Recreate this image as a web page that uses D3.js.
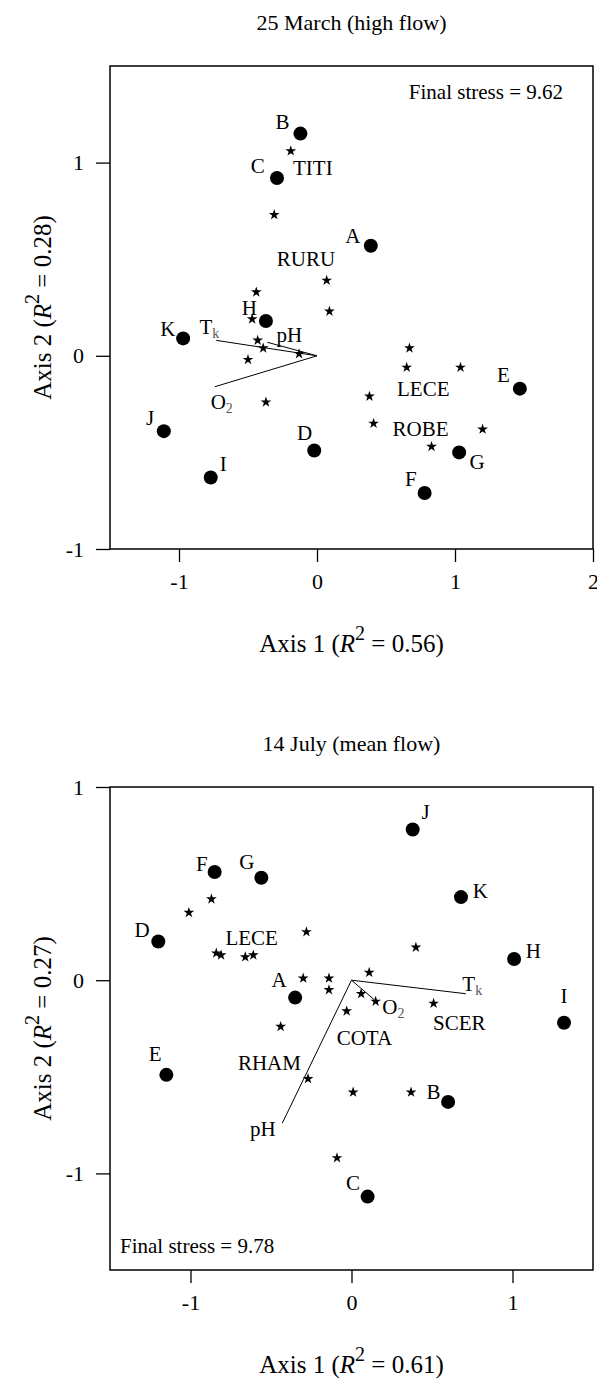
<!DOCTYPE html>
<html>
<head>
<meta charset="utf-8">
<script src="https://cdn.jsdelivr.net/npm/d3@7"></script>
<style>
  body { margin: 0; background: #fff; }
  svg text { font-family: "Liberation Serif", "Times New Roman", serif; fill: #000; }
</style>
</head>
<body>
<div id="chart"></div>
<script>
// site letters shared by both dates
const siteNames = ["A", "B", "C", "D", "E", "F", "G", "H", "I", "J", "K"];

// ---- 25 March (high flow) ----
const marchSiteX = [0.39, -0.12, -0.29, -0.02, 1.47, 0.78, 1.03, -0.37, -0.77, -1.11, -0.97];
const marchSiteY = [0.57, 1.15, 0.92, -0.49, -0.17, -0.71, -0.50, 0.18, -0.63, -0.39, 0.09];
const marchSiteLabelX = [0.26, -0.25, -0.43, -0.09, 1.35, 0.68, 1.16, -0.49, -0.68, -1.21, -1.08];
const marchSiteLabelY = [0.62, 1.21, 0.98, -0.40, -0.10, -0.64, -0.55, 0.25, -0.56, -0.32, 0.14];
const marchSpeciesX = [-0.19, -0.31, 0.07, 0.09, -0.44, -0.47, -0.43, -0.39, -0.13, -0.50, -0.37,
                       0.67, 0.65, 1.04, 0.38, 0.41, 1.20, 0.83];
const marchSpeciesY = [1.06, 0.73, 0.39, 0.23, 0.33, 0.19, 0.08, 0.04, 0.01, -0.02, -0.24,
                       0.04, -0.06, -0.06, -0.21, -0.35, -0.38, -0.47];
const marchTagNames = ["TITI", "RURU", "LECE", "ROBE"];
const marchTagX = [-0.03, -0.08, 0.77, 0.75];
const marchTagY = [0.97, 0.50, -0.17, -0.38];
const marchVectorNames = ["Tk", "pH", "O2"];
const marchVectorX = [-0.73, -0.36, -0.74];
const marchVectorY = [0.08, 0.07, -0.16];
const marchVectorLabelX = [-0.78, -0.20, -0.69];
const marchVectorLabelY = [0.15, 0.11, -0.24];
const marchXTicks = [-1, 0, 1, 2];
const marchYTicks = [-1, 0, 1];

// ---- 14 July (mean flow) ----
const julySiteX = [-0.35, 0.60, 0.10, -1.20, -1.15, -0.85, -0.56, 1.01, 1.32, 0.38, 0.68];
const julySiteY = [-0.09, -0.63, -1.12, 0.20, -0.49, 0.56, 0.53, 0.11, -0.22, 0.78, 0.43];
const julySiteLabelX = [-0.45, 0.51, 0.01, -1.30, -1.22, -0.93, -0.65, 1.13, 1.32, 0.46, 0.80];
const julySiteLabelY = [0.00, -0.58, -1.05, 0.26, -0.38, 0.60, 0.61, 0.15, -0.08, 0.87, 0.46];
const julySpeciesX = [-0.87, -1.01, -0.28, -0.84, -0.81, -0.66, -0.61, -0.30, -0.14, -0.14, 0.11,
                      0.06, 0.15, -0.03, -0.44, -0.27, 0.01, 0.37, 0.40, 0.51, -0.09];
const julySpeciesY = [0.42, 0.35, 0.25, 0.14, 0.13, 0.12, 0.13, 0.01, 0.01, -0.05, 0.04,
                      -0.07, -0.11, -0.16, -0.24, -0.51, -0.58, -0.58, 0.17, -0.12, -0.92];
const julyTagNames = ["LECE", "RHAM", "COTA", "SCER"];
const julyTagX = [-0.62, -0.51, 0.08, 0.67];
const julyTagY = [0.22, -0.43, -0.30, -0.22];
const julyVectorNames = ["Tk", "O2", "pH"];
const julyVectorX = [0.71, 0.14, -0.43];
const julyVectorY = [-0.07, -0.10, -0.74];
const julyVectorLabelX = [0.75, 0.26, -0.55];
const julyVectorLabelY = [-0.02, -0.14, -0.77];
const julyXTicks = [-1, 0, 1];
const julyYTicks = [-1, 0, 1];

const panels = [
  {
    title: "25 March (high flow)", xR2: "0.56", yR2: "0.28", stress: "Final stress = 9.62", stressPos: "topright",
    xDomain: [-1.5, 2], yDomain: [-1, 1.5], xTicks: marchXTicks, yTicks: marchYTicks,
    siteX: marchSiteX, siteY: marchSiteY, labelX: marchSiteLabelX, labelY: marchSiteLabelY,
    spX: marchSpeciesX, spY: marchSpeciesY,
    tags: marchTagNames, tagX: marchTagX, tagY: marchTagY,
    vecs: marchVectorNames, vecX: marchVectorX, vecY: marchVectorY, vecLX: marchVectorLabelX, vecLY: marchVectorLabelY
  },
  {
    title: "14 July (mean flow)", xR2: "0.61", yR2: "0.27", stress: "Final stress = 9.78", stressPos: "bottomleft",
    xDomain: [-1.5, 1.5], yDomain: [-1.5, 1], xTicks: julyXTicks, yTicks: julyYTicks,
    siteX: julySiteX, siteY: julySiteY, labelX: julySiteLabelX, labelY: julySiteLabelY,
    spX: julySpeciesX, spY: julySpeciesY,
    tags: julyTagNames, tagX: julyTagX, tagY: julyTagY,
    vecs: julyVectorNames, vecX: julyVectorX, vecY: julyVectorY, vecLX: julyVectorLabelX, vecLY: julyVectorLabelY
  }
];

const W = 597, H = 1379;
const boxL = 110, boxW = 483, boxH = 483;
const panelTop = [66, 787];

const svg = d3.select("#chart").append("svg")
  .attr("width", W).attr("height", H);

// writes a label, with a subscript for Tk and O2
function subLabel(sel, name) {
  if (name === "Tk" || name === "O2") {
    sel.append("tspan").text(name[0]);
    sel.append("tspan").text(name[1])
      .attr("font-size", 14).attr("dy", 6).style("fill", "#555");
  } else {
    sel.text(name);
  }
}

// "Axis n (R2 = v)" with italic R and raised 2
function axisTitle(sel, n, v) {
  sel.append("tspan").text("Axis " + n + " (");
  sel.append("tspan").attr("font-style", "italic").text("R");
  sel.append("tspan").attr("font-size", 20).attr("dy", -10).text("2");
  sel.append("tspan").attr("dy", 10).text(" = " + v + ")");
}

panels.forEach((p, k) => {
  const top = panelTop[k];
  const x = d3.scaleLinear().domain(p.xDomain).range([boxL, boxL + boxW]);
  const y = d3.scaleLinear().domain(p.yDomain).range([top + boxH, top]);
  const g = svg.append("g");

  // title
  g.append("text")
    .attr("x", boxL + boxW / 2).attr("y", top - 44)
    .attr("text-anchor", "middle").attr("dominant-baseline", "central")
    .attr("font-size", 22).text(p.title);

  // axes
  const xAxis = d3.axisBottom(x).tickValues(p.xTicks).tickFormat(d => String(d))
    .tickSize(13).tickPadding(11);
  const yAxis = d3.axisLeft(y).tickValues(p.yTicks).tickFormat(d => String(d))
    .tickSize(14).tickPadding(12);
  const gx = g.append("g").attr("transform", "translate(0," + (top + boxH) + ")").call(xAxis);
  const gy = g.append("g").attr("transform", "translate(" + boxL + ",0)").call(yAxis);
  [gx, gy].forEach(a => {
    a.select(".domain").remove();
    a.selectAll("line").attr("stroke", "#000").attr("stroke-width", 1.3);
    a.selectAll("text").attr("font-size", 22)
      .style("font-family", "'Liberation Serif', 'Times New Roman', serif").attr("fill", "#000");
  });

  // box
  g.append("rect")
    .attr("x", boxL).attr("y", top).attr("width", boxW).attr("height", boxH)
    .attr("fill", "none").attr("stroke", "#000").attr("stroke-width", 1.5);

  // axis titles
  const xt = g.append("text")
    .attr("x", boxL + boxW / 2).attr("y", top + boxH + 94)
    .attr("text-anchor", "middle").attr("dominant-baseline", "central").attr("font-size", 25);
  axisTitle(xt, 1, p.xR2);

  const yt = g.append("text")
    .attr("transform", "translate(42," + (top + boxH / 2) + ") rotate(-90)")
    .attr("text-anchor", "middle").attr("dominant-baseline", "central").attr("font-size", 25);
  axisTitle(yt, 2, p.yR2);

  // stress note
  const st = g.append("text").attr("font-size", 21).attr("dominant-baseline", "central").text(p.stress);
  if (p.stressPos === "topright") {
    st.attr("x", boxL + boxW - 30).attr("y", top + 26).attr("text-anchor", "end");
  } else {
    st.attr("x", boxL + 10).attr("y", top + boxH - 24).attr("text-anchor", "start");
  }

  // environmental vectors from the origin
  g.selectAll(".vec").data(p.vecs).enter().append("line")
    .attr("x1", x(0)).attr("y1", y(0))
    .attr("x2", (d, i) => x(p.vecX[i])).attr("y2", (d, i) => y(p.vecY[i]))
    .attr("stroke", "#000").attr("stroke-width", 1);
  p.vecs.forEach((name, i) => {
    const t = g.append("text")
      .attr("x", x(p.vecLX[i])).attr("y", y(p.vecLY[i]))
      .attr("text-anchor", "middle").attr("dominant-baseline", "central")
      .attr("font-size", 21);
    subLabel(t, name);
  });

  // species (stars)
  g.selectAll(".sp").data(p.spX).enter().append("path")
    .attr("d", d3.symbol().type(d3.symbolStar).size(36))
    .attr("transform", (d, i) => "translate(" + x(d) + "," + y(p.spY[i]) + ")")
    .attr("fill", "#000");

  // species tags
  g.selectAll(".tag").data(p.tags).enter().append("text")
    .attr("x", (d, i) => x(p.tagX[i])).attr("y", (d, i) => y(p.tagY[i]))
    .attr("text-anchor", "middle").attr("dominant-baseline", "central")
    .attr("font-size", 21).text(d => d);

  // sites (dots)
  g.selectAll(".site").data(siteNames).enter().append("circle")
    .attr("cx", (d, i) => x(p.siteX[i])).attr("cy", (d, i) => y(p.siteY[i]))
    .attr("r", 7).attr("fill", "#000");
  g.selectAll(".siteLab").data(siteNames).enter().append("text")
    .attr("x", (d, i) => x(p.labelX[i])).attr("y", (d, i) => y(p.labelY[i]))
    .attr("text-anchor", "middle").attr("dominant-baseline", "central")
    .attr("font-size", 21).text(d => d);
});
</script>
</body>
</html>
